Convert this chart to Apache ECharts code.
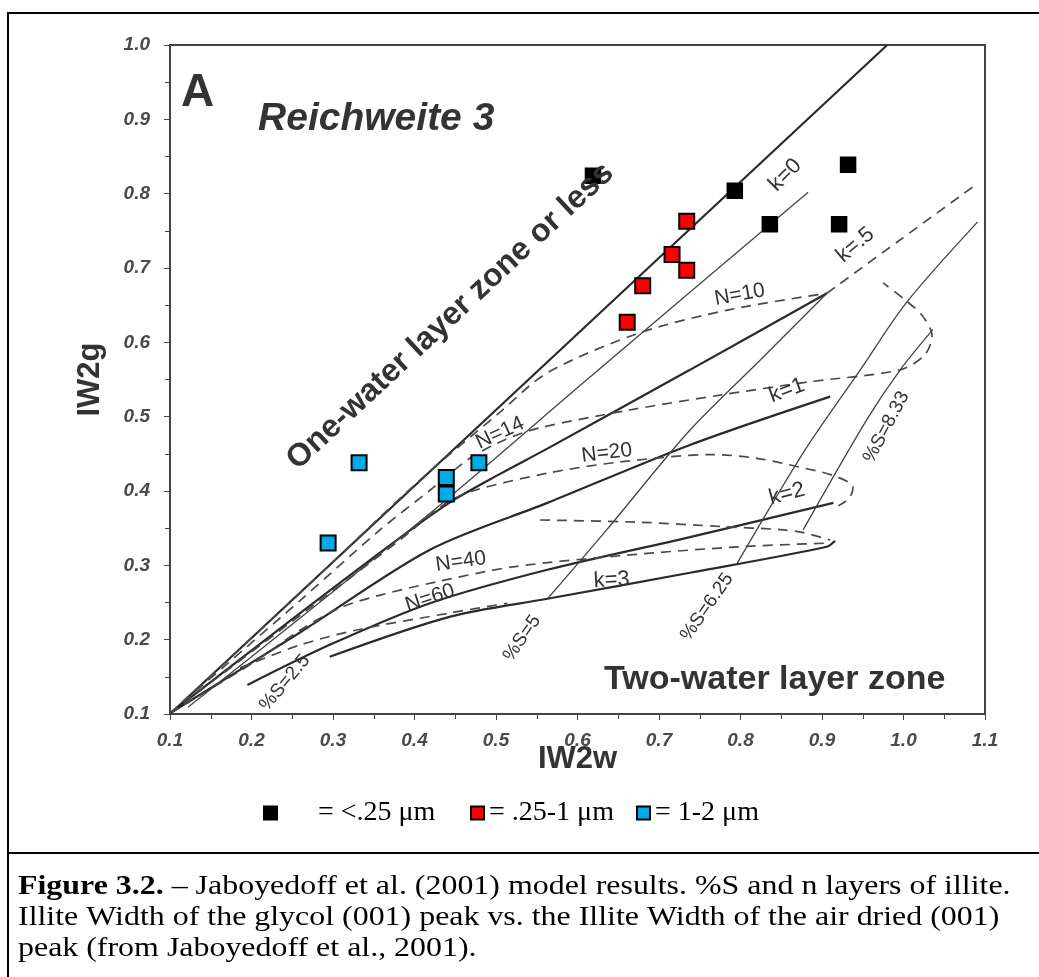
<!DOCTYPE html>
<html>
<head>
<meta charset="utf-8">
<script src="https://cdn.jsdelivr.net/npm/echarts@6/dist/echarts.min.js"></script>
<style>
html,body{margin:0;padding:0;background:#fff;}
#chart{width:1039px;height:977px;}
</style>
</head>
<body>
<div id="chart"></div>
<script>
// measured points (IW2w, IW2g)
var blackPts = [[0.619,0.824],[0.793,0.804],[0.836,0.759],[0.932,0.839],[0.921,0.759]];
var redPts   = [[0.734,0.763],[0.716,0.718],[0.734,0.697],[0.680,0.676],[0.661,0.627]];
var bluePts  = [[0.332,0.438],[0.294,0.330],[0.439,0.418],[0.439,0.396],[0.479,0.438]];

// model curves
var boundary = [[0.1,0.1],[0.98,1.0]];
var k05  = [[0.1,0.101],[0.26,0.236],[0.382,0.337],[0.444,0.385],[0.505,0.423],[0.563,0.457],[0.738,0.563],[0.906,0.666]];
var k05ext = [[0.906,0.666],[0.996,0.738],[1.085,0.809]];
var k1   = [[0.1,0.101],[0.26,0.210],[0.419,0.321],[0.563,0.384],[0.738,0.462],[0.910,0.527]];
var k2   = [[0.195,0.139],[0.296,0.193],[0.419,0.249],[0.563,0.294],[0.738,0.338],[0.914,0.384]];
var k3   = [[0.296,0.177],[0.444,0.231],[0.563,0.255],[0.738,0.290],[0.906,0.325],[0.916,0.333]];
var n10  = [[0.1,0.101],[0.26,0.263],[0.407,0.415],[0.505,0.506],[0.563,0.559],[0.677,0.613],[0.787,0.644],[0.906,0.666]];
var n14  = [[0.1,0.101],[0.26,0.253],[0.358,0.348],[0.419,0.401],[0.468,0.444],[0.511,0.469],[0.554,0.485],[0.664,0.509],[0.775,0.529],[0.885,0.547],[0.996,0.563],[1.026,0.583],[1.035,0.609],[1.023,0.636],[1.002,0.657],[0.975,0.680]];
var n20  = [[0.1,0.101],[0.26,0.233],[0.382,0.334],[0.435,0.381],[0.468,0.399],[0.563,0.424],[0.652,0.439],[0.766,0.449],[0.820,0.444],[0.873,0.432],[0.916,0.420],[0.938,0.405],[0.934,0.391],[0.920,0.380]];
var n20low = [[0.554,0.361],[0.677,0.358],[0.779,0.352],[0.849,0.348],[0.877,0.344],[0.910,0.334]];
var n40  = [[0.1,0.101],[0.202,0.169],[0.26,0.213],[0.309,0.243],[0.358,0.260],[0.428,0.278],[0.521,0.298],[0.664,0.314],[0.799,0.325],[0.910,0.330]];
var n60  = [[0.186,0.162],[0.26,0.193],[0.329,0.213],[0.444,0.236],[0.514,0.249]];
var s25  = [[0.122,0.109],[0.419,0.370],[0.615,0.553],[0.883,0.802]];
var s5   = [[0.564,0.256],[0.636,0.348],[0.738,0.482],[0.824,0.576],[0.906,0.666]];
var s625 = [[0.796,0.303],[0.879,0.455],[0.947,0.563],[1.004,0.654],[1.091,0.762]];
var s833 = [[0.877,0.348],[0.955,0.496],[0.996,0.563],[1.036,0.617]];

// annotations: x, y, text, rotation (deg), size, weight, style
var notes = [
  [0.134,0.935,'A',0,46,'bold','normal'],
  [0.353,0.900,'Reichweite 3',0,39,'bold','italic'],
  [0.444,0.635,'One-water layer zone or less',43,32,'bold','normal'],
  [0.842,0.146,'Two-water layer zone',0,34,'bold','normal'],
  [0.855,0.825,'k=0',45,22,'normal','normal'],
  [0.941,0.731,'k=.5',40,22,'normal','normal'],
  [0.799,0.664,'N=10',10,21,'normal','normal'],
  [0.505,0.478,'N=14',25,21,'normal','normal'],
  [0.636,0.451,'N=20',7,21,'normal','normal'],
  [0.857,0.535,'k=1',20,22,'normal','normal'],
  [0.857,0.396,'k=2',15,22,'normal','normal'],
  [0.457,0.305,'N=40',8,21,'normal','normal'],
  [0.419,0.256,'N=60',18,21,'normal','normal'],
  [0.642,0.280,'k=3',3,22,'normal','normal'],
  [0.241,0.142,'%S=2.5',50,19,'normal','normal'],
  [0.532,0.202,'%S=5',55,19,'normal','normal'],
  [0.759,0.244,'%S=6.25',55,19,'normal','normal'],
  [0.979,0.486,'%S=8.33',62,19,'normal','normal']
];

var legendNames = ['= <.25 μm', '= .25-1 μm', '= 1-2 μm'];
var captionLines = [
  '{b|Figure 3.2.} – Jaboyedoff et al. (2001) model results. %S and n layers of illite.',
  'Illite Width of the glycol (001) peak vs. the Illite Width of the air dried (001)',
  'peak (from Jaboyedoff et al., 2001).'
];

var sans = '"Liberation Sans", Arial, sans-serif';
var serif = '"Liberation Serif", "Times New Roman", serif';

var chart = echarts.init(document.getElementById('chart'));

function curve(data, kind) {
  var ls = {color: '#2a2a2a', width: 2.2, type: 'solid'};
  if (kind === 'thin') ls = {color: '#444', width: 1.3, type: 'solid'};
  if (kind === 'dash') ls = {color: '#4a4a4a', width: 1.7, type: [10, 7]};
  return {type: 'line', data: data, symbol: 'none', smooth: 0.3, lineStyle: ls,
          silent: true, z: 2, legendHoverLink: false};
}

function legendAt(left, name, pad) {
  return {
    left: left, top: 799, padding: 0, itemWidth: 13, itemHeight: 13, icon: 'rect',
    selectedMode: false,
    textStyle: {fontFamily: serif, fontSize: 28, color: '#000', padding: [0, 0, 0, pad]},
    data: [name]
  };
}

var axisText = {fontFamily: sans, fontStyle: 'italic', fontWeight: 'bold', fontSize: 19, color: '#4a4a4a'};
var nameText = {fontFamily: sans, fontWeight: 'bold', fontSize: 31, color: '#333'};

option = {
  animation: false,
  backgroundColor: '#fff',
  grid: {left: 170, top: 45, width: 815, height: 669, show: true, borderColor: '#444', borderWidth: 2},
  legend: [
    legendAt(263, legendNames[0], 36),
    legendAt(470, legendNames[1], 0),
    legendAt(636, legendNames[2], 0)
  ],
  xAxis: {
    type: 'value', min: 0.1, max: 1.1, interval: 0.1,
    name: 'IW2w', nameLocation: 'middle', nameGap: 30, nameMoveOverlap: false,
    nameTextStyle: nameText,
    axisLine: {lineStyle: {color: '#444', width: 2}},
    axisTick: {length: 6, lineStyle: {color: '#444'}},
    minorTick: {show: true, splitNumber: 2, length: 5, lineStyle: {color: '#444'}},
    splitLine: {show: false},
    axisLabel: Object.assign({margin: 17, formatter: function (v) { return v.toFixed(1); }}, axisText)
  },
  yAxis: {
    type: 'value', min: 0.1, max: 1.0, interval: 0.1,
    name: 'IW2g', nameLocation: 'middle', nameGap: 64, nameMoveOverlap: false,
    nameTextStyle: nameText,
    axisLine: {show: true, lineStyle: {color: '#444', width: 2}},
    axisTick: {show: true, length: 6, lineStyle: {color: '#444'}},
    minorTick: {show: true, splitNumber: 2, length: 5, lineStyle: {color: '#444'}},
    splitLine: {show: false},
    axisLabel: Object.assign({margin: 20, formatter: function (v) { return v.toFixed(1); }}, axisText)
  },
  series: [
    curve(boundary, 'solid'), curve(k05, 'solid'), curve(k05ext, 'dash'),
    curve(k1, 'solid'), curve(k2, 'solid'), curve(k3, 'solid'),
    curve(n10, 'dash'), curve(n14, 'dash'), curve(n20, 'dash'), curve(n20low, 'dash'),
    curve(n40, 'dash'), curve(n60, 'dash'),
    curve(s25, 'thin'), curve(s5, 'thin'), curve(s625, 'thin'), curve(s833, 'thin'),
    {name: legendNames[0], type: 'scatter', data: blackPts, symbol: 'rect', symbolSize: 15, z: 5,
     itemStyle: {color: '#000', borderColor: '#000', borderWidth: 1.5, opacity: 1}},
    {name: legendNames[1], type: 'scatter', data: redPts, symbol: 'rect', symbolSize: 15, z: 5,
     itemStyle: {color: '#f00', borderColor: '#000', borderWidth: 2, opacity: 1}},
    {name: legendNames[2], type: 'scatter', data: bluePts, symbol: 'rect', symbolSize: 15, z: 5,
     itemStyle: {color: '#00aae8', borderColor: '#000', borderWidth: 2, opacity: 1}}
  ]
};

chart.setOption(option);

// annotations placed through the axes, frame and caption in page layout
var g = [
  {type: 'rect', shape: {x: 8, y: 13, width: 1060, height: 1000}, style: {fill: 'none', stroke: '#000', lineWidth: 2}, z: 0},
  {type: 'line', shape: {x1: 8, y1: 853, x2: 1039, y2: 853}, style: {stroke: '#000', lineWidth: 2}}
];
notes.forEach(function (n) {
  var p = chart.convertToPixel({xAxisIndex: 0, yAxisIndex: 0}, [n[0], n[1]]);
  g.push({type: 'text', x: p[0], y: p[1], rotation: n[3] * Math.PI / 180, z: 10,
    style: {text: n[2], fontSize: n[4], fontWeight: n[5], fontStyle: n[6], fontFamily: sans,
            fill: '#333', align: 'center', verticalAlign: 'middle'}});
});
captionLines.forEach(function (t, i) {
  g.push({type: 'text', x: 18, y: 887 + i * 31, scaleX: 1.14, z: 10,
    style: {text: t, fontSize: 28, fontFamily: serif, fill: '#000', verticalAlign: 'middle',
            rich: {b: {fontWeight: 'bold', fontSize: 28, fontFamily: serif}}}});
});
chart.setOption({graphic: g});
</script>
</body>
</html>
